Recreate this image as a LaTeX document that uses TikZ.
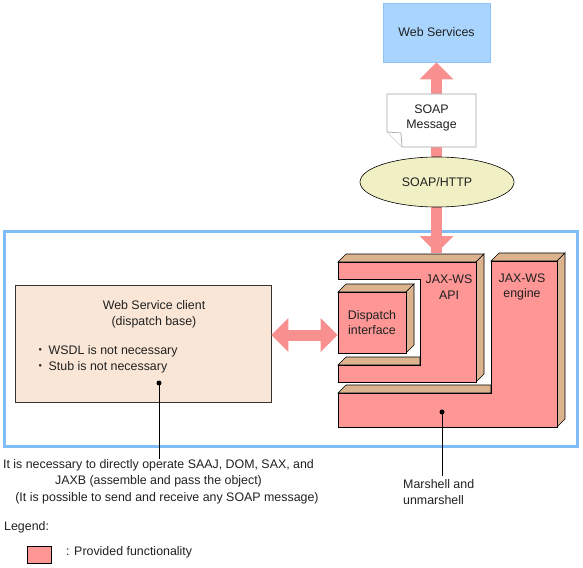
\documentclass[tikz,border=0pt]{standalone}
\usepackage{fontspec}
\setmainfont{Liberation Sans}
\newfontfamily\cjk{Noto Sans CJK JP}
\usetikzlibrary{arrows.meta,shapes.geometric}
\definecolor{pinkf}{HTML}{FF9696}
\definecolor{arrowc}{HTML}{F99090}
\definecolor{tanf}{HTML}{DBB38E}
\definecolor{peach}{HTML}{F9E6D6}
\definecolor{wsblue}{HTML}{A9D4FD}
\definecolor{wsborder}{HTML}{8CC4F5}
\definecolor{framec}{HTML}{80BDF7}
\definecolor{ellf}{HTML}{F0F0C4}
\definecolor{txt}{HTML}{202020}
\tikzset{
  every node/.style={font=\fontsize{12.4}{15.8}\selectfont, text=txt, inner sep=0pt},
  fatarrow/.style={draw=arrowc, line width=11pt,
     arrows={-Triangle[width=34pt,length=17pt,fill=arrowc,line width=0pt]}},
  fatboth/.style={draw=arrowc, line width=11pt,
     arrows={Triangle[width=34pt,length=17pt,fill=arrowc,line width=0pt]-Triangle[width=34pt,length=17pt,fill=arrowc,line width=0pt]}},
  front/.style={fill=pinkf, draw=black, line width=0.6pt, line join=miter},
  side/.style={fill=tanf, draw=black, line width=0.6pt, line join=miter},
  leader/.style={draw=black, line width=0.8pt},
  dotnode/.style={circle, fill=black, minimum size=5pt, inner sep=0pt},
}
\begin{document}
\begin{tikzpicture}[x=1pt,y=-1pt]
\useasboundingbox (0,0) rectangle (583,567);

% outer frame
\draw[framec, line width=3pt] (4.5,231.5) rectangle (577.5,446);

% Web Services
\node[draw=wsborder, fill=wsblue, line width=0.8pt, minimum width=107pt, minimum height=59pt] (ws) at (436.5,32.5) {Web Services};

% vertical arrow
\coordinate (apitop) at (436.5,253);
\draw[fatarrow] (apitop) -- (ws.south);
\draw[fatarrow] (436.5,100) -- (apitop);

% SOAP message document
\draw[fill=white, draw=gray!70, line width=0.7pt] (387,94) -- (476,94) -- (476,147) -- (402,147) -- (387,132) -- cycle;
\draw[fill=white, draw=gray!70, line width=0.7pt] (387,132) -- (401,133) -- (402,147);
\node[align=center] (msg) at (431.5,118) {SOAP\\Message};

% SOAP/HTTP ellipse
\node[ellipse, draw=black, fill=ellf, line width=0.6pt, minimum width=154pt, minimum height=50pt] (http) at (437,182) {SOAP/HTTP};

% JAX-WS engine (L shape)
\draw[side] (491,261) -- (499,253) -- (565,253) -- (557,261) -- cycle;
\draw[side] (557,261) -- (565,253) -- (565,419) -- (557,427) -- cycle;
\draw[side] (338,393) -- (346,385) -- (491,385) -- (491,393) -- cycle;
\draw[front] (491,261) -- (557,261) -- (557,427) -- (338,427) -- (338,393) -- (491,393) -- cycle;
\node[align=center] (eng) at (522,287) {JAX-WS\\engine};

% JAX-WS API (C shape)
\draw[side] (338,262) -- (346,254) -- (484,254) -- (476,262) -- cycle;
\draw[side] (476,262) -- (484,254) -- (484,374) -- (476,382) -- cycle;
\draw[side] (338,365) -- (346,357) -- (420,357) -- (420,365) -- cycle;
\draw[front] (338,262) -- (476,262) -- (476,382) -- (338,382) -- (338,365) -- (420,365) -- (420,279) -- (338,279) -- cycle;
\node[align=center] (api) at (449,287) {JAX-WS\\API};

% Dispatch interface
\draw[side] (338,292) -- (346,284) -- (414,284) -- (406,292) -- cycle;
\draw[side] (406,292) -- (414,284) -- (414,345) -- (406,353) -- cycle;
\node[front, minimum width=68pt, minimum height=61pt, align=center] (disp) at (372,322.5) {Dispatch\\interface};

% Web Service client
\node[draw=black!80, fill=peach, line width=0.6pt, minimum width=256pt, minimum height=117pt] (client) at (143,343.5) {};
\node[align=center] (ctitle) at (154,314.5) {Web Service client\\(dispatch base)};
\node[anchor=west, align=left] (cbul) at (34,359) {{\cjk ・}\,WSDL is not necessary\\{\cjk ・}\,Stub is not necessary};

% horizontal double arrow
\coordinate (ay) at (0,335);
\draw[fatboth] (client.east |- ay) -- (disp.west |- ay);

% leaders and notes
\node[dotnode] (cdot) at (159,383) {};
\node[align=center] (note1) at (158.5,473) {It is necessary to directly operate SAAJ, DOM, SAX, and\\JAXB (assemble and pass the object)};
\node (note2) at (167,498) {(It is possible to send and receive any SOAP message)};
\draw[leader] (cdot.center) -- (cdot.center |- note1.north);

\node[dotnode] (mdot) at (442,412) {};
\node[anchor=west, align=left] (mnote) at (403,492) {Marshell and\\unmarshell};
\draw[leader] (mdot.center) -- (442,476);

% legend
\node[anchor=west] (leg) at (4,527) {Legend:};
\node[fill=pinkf, draw=black, line width=0.6pt, minimum width=24pt, minimum height=17pt] (legbox) at (39.5,554.5) {};
\node[anchor=west] (legtxt) at (66,552) {: Provided functionality};
\end{tikzpicture}
\end{document}
